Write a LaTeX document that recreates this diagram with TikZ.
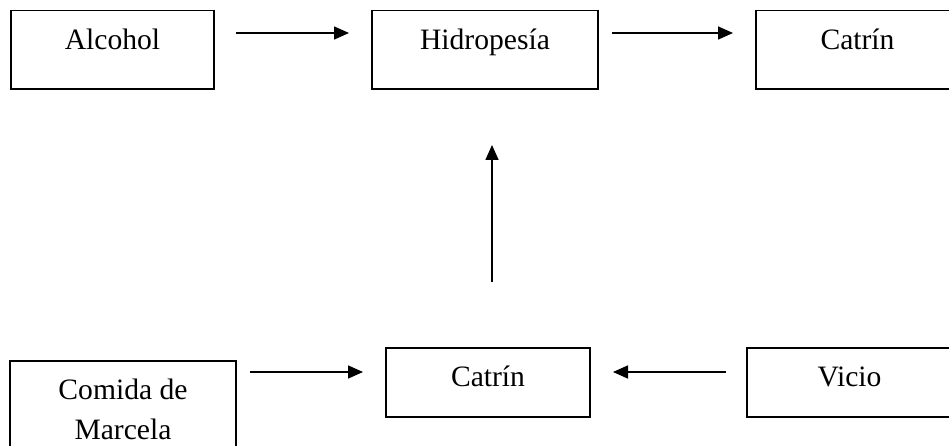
\documentclass[tikz,border=0pt]{standalone}
\usepackage{fontspec}
\setmainfont{Liberation Serif}
\usetikzlibrary{arrows.meta}
\begin{document}
\begin{tikzpicture}[x=1pt,y=-1pt,
  box/.style={draw=black,line width=1.8pt,rectangle,inner sep=0pt,outer sep=0pt,minimum height=78.5pt},
  lowbox/.style={box,minimum height=69pt},
  lbl/.style={anchor=base,inner sep=0pt,align=center,font=\fontsize{29.6}{40}\selectfont},
  arr/.style={line width=1.6pt,-{Triangle[length=15pt,width=13pt]}}]
\useasboundingbox (0,0) rectangle (949,446);
\clip (0,0) rectangle (949,446);
\fill[white] (0,0) rectangle (949,446);
% upper row
\node[box,minimum width=203pt] (alc) at (112.5,49.75) {};
\node[box,minimum width=226pt] (hid) at (485,49.75) {};
\node[box,minimum width=203pt] (cat1) at (857.5,49.75) {};
\node[lbl] (alct) at ([yshift=-39.5pt]alc.north) {Alcohol};
\node[lbl] (hidt) at ([yshift=-39.5pt]hid.north) {Hidropesía};
\node[lbl] (cat1t) at ([yshift=-39.5pt]cat1.north) {Catrín};
% lower row
\node[box,minimum width=226pt,minimum height=118pt] (com) at (123,420) {};
\node[lowbox,minimum width=204pt] (cat2) at (488,382.5) {};
\node[lowbox,minimum width=205pt] (vic) at (849.5,382.5) {};
\node[lbl] (comt) at ([yshift=-78pt]com.north) {Comida de\\Marcela};
\node[lbl] (cat2t) at ([yshift=-38.7pt]cat2.north) {Catrín};
\node[lbl] (vict) at ([yshift=-38.7pt]vic.north) {Vicio};
% connectors
\draw[arr] ([shift={(22,22.5)}]alc.north east) -- ([shift={(-23,22.5)}]hid.north west);
\draw[arr] ([shift={(14,22.5)}]hid.north east) -- ([shift={(-23,22.5)}]cat1.north west);
\draw[arr] ([shift={(4,-66)}]cat2.north) -- ([shift={(7,56)}]hid.south);
\draw[arr] ([shift={(14,11)}]com.north east) -- ([shift={(-23,24)}]cat2.north west);
\draw[arr] ([shift={(-21,24)}]vic.north west) -- ([shift={(23,24)}]cat2.north east);
\end{tikzpicture}
\end{document}
